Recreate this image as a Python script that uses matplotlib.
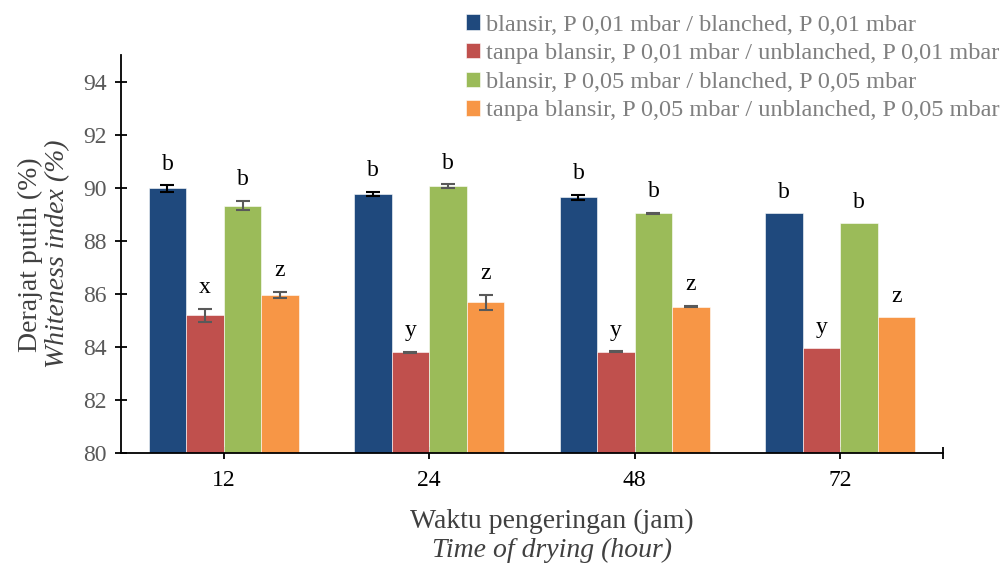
import numpy as np
import matplotlib.pyplot as plt

plt.rcParams['font.family'] = ['Liberation Serif', 'DejaVu Serif']

hours = ['12', '24', '48', '72']
series_names = [
    'blansir, P 0,01 mbar / blanched, P 0,01 mbar',
    'tanpa blansir, P 0,01 mbar / unblanched, P 0,01 mbar',
    'blansir, P 0,05 mbar / blanched, P 0,05 mbar',
    'tanpa blansir, P 0,05 mbar / unblanched, P 0,05 mbar',
]
blanched_001 = [89.97, 89.76, 89.64, 89.03]
unblanched_001 = [85.19, 83.80, 83.82, 83.95]
blanched_005 = [89.32, 90.05, 89.03, 88.65]
unblanched_005 = [85.95, 85.68, 85.52, 85.12]

# 0 = no error bar drawn
err_b001 = [0.12, 0.08, 0.10, 0.0]
err_u001 = [0.25, 0.02, 0.02, 0.0]
err_b005 = [0.18, 0.08, 0.02, 0.0]
err_u005 = [0.12, 0.28, 0.02, 0.0]

letters_b001 = ['b', 'b', 'b', 'b']
letters_u001 = ['x', 'y', 'y', 'y']
letters_b005 = ['b', 'b', 'b', 'b']
letters_u005 = ['z', 'z', 'z', 'z']

values = [blanched_001, unblanched_001, blanched_005, unblanched_005]
errors = [err_b001, err_u001, err_b005, err_u005]
letters = [letters_b001, letters_u001, letters_b005, letters_u005]
colors = ['#1F497D', '#C0504D', '#9BBB59', '#F79646']
err_colors = ['black', '#595959', '#595959', '#595959']

fig = plt.figure(figsize=(10.05, 5.65), dpi=100)
ax = fig.add_axes([0.1204, 0.1982, 0.8179, 0.7045])

x = np.arange(len(hours))
width = 0.1825
for i in range(4):
    pos = x + (i - 1.5) * width
    ax.bar(pos, values[i], width, color=colors[i], edgecolor='white',
           linewidth=0.4, label=series_names[i], zorder=2)
    err = np.array(errors[i])
    has = err > 0
    ax.errorbar(pos[has], np.array(values[i])[has], yerr=err[has], fmt='none',
                ecolor=err_colors[i], elinewidth=1.5, capsize=5, capthick=1.5, zorder=3)
    for j in range(len(hours)):
        ax.text(pos[j], values[i][j] + errors[i][j] + 0.4, letters[i][j],
                ha='center', va='bottom', fontsize=17, color='black')

ax.set_xlim(-0.5, 3.5)
ax.set_ylim(80, 95)
ax.set_yticks(range(80, 95, 2))
ax.set_xticks(list(x) + [3.5])
ax.set_xticklabels(hours + [''])
ax.tick_params(axis='both', direction='inout', length=9, width=1.3)
ax.tick_params(axis='y', labelsize=17, labelcolor='#595959', pad=6)
ax.tick_params(axis='x', labelsize=17, labelcolor='black', pad=8)
for side in ['top', 'right']:
    ax.spines[side].set_visible(False)
for side in ['left', 'bottom']:
    ax.spines[side].set_linewidth(1.3)

fig.text(0.549, 0.077, 'Waktu pengeringan (jam)', ha='center', va='center',
         fontsize=20, color='#404040')
fig.text(0.549, 0.025, 'Time of drying (hour)', ha='center', va='center',
         fontsize=20, color='#404040', style='italic')
fig.text(0.030, 0.55, 'Derajat putih (%)', ha='center', va='center',
         rotation=90, fontsize=20, color='#404040')
fig.text(0.057, 0.55, 'Whiteness index (%)', ha='center', va='center',
         rotation=90, fontsize=20, color='#404040', style='italic')

leg = fig.legend(loc='upper right', bbox_to_anchor=(1.007, 0.996), frameon=False,
                 fontsize=17.5, handlelength=0.6, handleheight=0.6,
                 handletextpad=0.25, labelspacing=0.3, borderaxespad=0.1)
for t in leg.get_texts():
    t.set_color('#7F7F7F')

fig.savefig('out.png', dpi=100)
